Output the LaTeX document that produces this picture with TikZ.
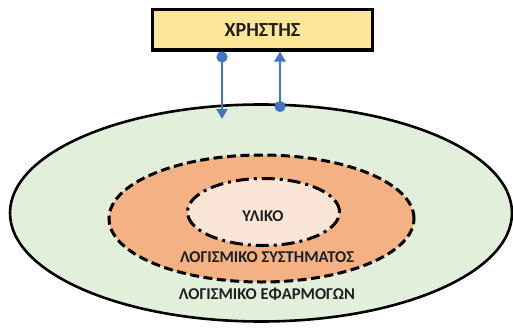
\documentclass[tikz,border=0pt]{standalone}
\usepackage{fontspec}
\setmainfont{Carlito}
\usetikzlibrary{arrows.meta,shapes.geometric}
\definecolor{boxfill}{HTML}{FFE699}
\definecolor{outerfill}{HTML}{E2EFDA}
\definecolor{midfill}{HTML}{F4B183}
\definecolor{innerfill}{HTML}{FBE5D6}
\definecolor{arrowblue}{HTML}{4472C4}
\tikzset{
  ring/.style={ellipse, inner sep=0pt, outer sep=0pt},
  lbl/.style={font=\bfseries\fontsize{16.5}{18}\selectfont, text=black!88},
  link/.style={draw=arrowblue, line width=2.3pt},
}
\begin{document}
\begin{tikzpicture}[x=1pt,y=-1pt]
\useasboundingbox (0,0) rectangle (513,329);
\node[ring, draw=black, line width=2.6pt, fill=outerfill, minimum width=502pt, minimum height=217pt] (outer) at (261,213) {};
\node[ring, draw=black, line width=3pt, fill=midfill, dash pattern=on 9pt off 4.5pt, minimum width=305pt, minimum height=127pt] (mid) at (261.5,218.5) {};
\node[ring, draw=black, line width=3pt, fill=innerfill, dash pattern=on 13pt off 5pt on 3pt off 5pt, minimum width=152pt, minimum height=67pt] (inner) at (263.5,212) {};
\node[lbl] (hw) at (263,216) {ΥΛΙΚΟ};
\node[lbl] (sys) at (267,257) {ΛΟΓΙΣΜΙΚΟ ΣΥΣΤΗΜΑΤΟΣ};
\node[lbl] (app) at (267,294) {ΛΟΓΙΣΜΙΚΟ ΕΦΑΡΜΟΓΩΝ};
\node[draw=black, line width=3pt, fill=boxfill, minimum width=220pt, minimum height=40pt, inner sep=0pt, font=\bfseries\fontsize{20}{22}\selectfont, text=black!88] (user) at (262.5,30) {ΧΡΗΣΤΗΣ};
\coordinate (downend) at (222,119);
\coordinate (upstart) at (280,112);
\draw[link, {Circle[length=11pt]}-{Triangle[length=10pt,width=11pt]}] (user.south -| downend) -- (downend);
\draw[link, {Circle[length=11pt]}-{Triangle[length=10pt,width=11pt]}] (upstart) -- (user.south -| upstart);
\end{tikzpicture}
\end{document}
